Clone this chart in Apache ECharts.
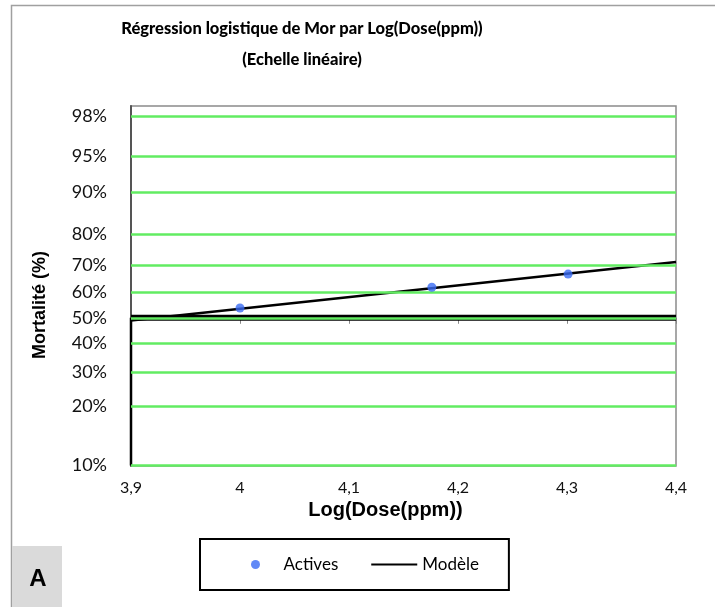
<!DOCTYPE html>
<html>
<head>
<meta charset="utf-8">
<script src="https://cdn.jsdelivr.net/npm/echarts@6/dist/echarts.min.js"></script>
<style>
  html, body { margin: 0; padding: 0; background: #fff; }
  #chart { width: 715px; height: 607px; }
</style>
</head>
<body>
<div id="chart"></div>
<script>
// ---- Data ----
// Y axis tick labels (mortality %) and the position of each gridline on the
// transformed (logit-like) axis, 50 % = 0.
const yTickPct = [10, 20, 30, 40, 50, 60, 70, 80, 90, 95, 98];
const yTickLabels = ['10%', '20%', '30%', '40%', '50%', '60%', '70%', '80%', '90%', '95%', '98%'];
const yTickPos = [-2.349, -1.413, -0.857, -0.402, 0, 0.408, 0.841, 1.329, 2.005, 2.560, 3.206];
const yAxisBottom = -2.355;
const yAxisTop = 3.365;

// X axis
const xMin = 3.9, xMax = 4.4, xStep = 0.1;

// Observed points "Actives": Log(Dose) and mortality (%)
const activesX = [4.0, 4.176, 4.301];
const activesPct = [53.8, 61.8, 66.6];

// Fitted model "Modèle"
const modelX = [3.9, 4.4];
const modelPct = [48.9, 70.9];

// 50 % reference line and vertical segment from the axis
const refX = [3.9, 4.4];
const refPct = [50, 50];
const vertX = [3.9, 3.9];
const vertPct = [50, 10];

// ---- transform percent -> axis position (piecewise between read gridlines) ----
function toAxis(p) {
  for (let i = 0; i < yTickPct.length - 1; i++) {
    if (p >= yTickPct[i] && p <= yTickPct[i + 1]) {
      const t = (p - yTickPct[i]) / (yTickPct[i + 1] - yTickPct[i]);
      return yTickPos[i] + t * (yTickPos[i + 1] - yTickPos[i]);
    }
  }
  return p < yTickPct[0] ? yTickPos[0] : yTickPos[yTickPos.length - 1];
}
const pair = (xs, ps) => xs.map((x, i) => [x, toAxis(ps[i])]);

const chart = echarts.init(document.getElementById('chart'), null, { renderer: 'canvas' });

const gridLines = yTickPos.map((v, i) => ({
  yAxis: v,
  label: { formatter: yTickLabels[i] }
}));

const option = {
  backgroundColor: '#ffffff',
  animation: false,
  title: {
    text: 'Régression logistique de Mor par Log(Dose(ppm))\n(Echelle linéaire)',
    left: 297,
    top: 8,
    textAlign: 'center',
    textStyle: {
      fontFamily: 'Lato',
      fontWeight: 900,
      fontSize: 16.5,
      lineHeight: 31,
      color: '#000'
    }
  },
  grid: {
    left: 131, right: 39, top: 106, bottom: 141,
    show: true,
    borderColor: '#8a8a8a',
    borderWidth: 1.5,
    backgroundColor: 'transparent'
  },
  legend: {
    left: 200,
    top: 539,
    orient: 'horizontal',
    data: [
      { name: 'Actives', icon: 'circle' },
      { name: 'Modèle', itemStyle: { opacity: 0 } }
    ],
    itemWidth: 46,
    itemHeight: 9,
    itemGap: 32,
    padding: [17, 30, 17, 51],
    borderColor: '#000',
    borderWidth: 2,
    textStyle: { fontFamily: 'Lato', fontSize: 17, color: '#000' },
    selectedMode: false
  },
  xAxis: {
    type: 'value',
    min: xMin, max: xMax, interval: xStep,
    name: 'Log(Dose(ppm))',
    nameLocation: 'middle',
    nameGap: 34,
    nameTextStyle: {
      fontFamily: 'Liberation Sans', fontWeight: 'bold', fontSize: 20, color: '#000',
      padding: [0, 36, 0, 0]
    },
    axisLine: { show: false },
    axisTick: { show: true, length: 6, lineStyle: { color: '#888' } },
    splitLine: { show: false },
    axisLabel: {
      margin: 14,
      fontFamily: 'Lato', fontSize: 16, color: '#111',
      formatter: v => (Math.round(v * 10) / 10).toString().replace('.', ',')
    }
  },
  yAxis: {
    type: 'value',
    min: yAxisBottom, max: yAxisTop,
    name: 'Mortalité (%)',
    nameLocation: 'middle',
    nameGap: 82,
    nameRotate: 90,
    nameTextStyle: {
      fontFamily: 'Liberation Sans', fontWeight: 'bold', fontSize: 18, color: '#000',
      padding: [0, 38, 0, 0]
    },
    axisLine: { show: true, lineStyle: { color: '#555', width: 2 } },
    axisTick: { show: false },
    axisLabel: { show: false },
    splitLine: { show: false }
  },
  series: [
    {
      name: 'grid',
      type: 'line',
      data: [],
      silent: true,
      z: 1,
      markLine: {
        silent: true,
        symbol: 'none',
        animation: false,
        lineStyle: { color: '#62EC62', width: 2.5, type: 'solid' },
        label: {
          show: true,
          position: 'start',
          distance: 24,
          fontFamily: 'Lato',
          fontSize: 18,
          color: '#111'
        },
        emphasis: { disabled: true },
        data: gridLines
      }
    },
    {
      name: 'ref50',
      type: 'line',
      data: pair(refX, refPct),
      symbol: 'none',
      silent: true,
      lineStyle: { color: '#000', width: 6 },
      z: 3
    },
    {
      name: 'vert',
      type: 'line',
      data: pair(vertX, vertPct),
      symbol: 'none',
      silent: true,
      lineStyle: { color: '#000', width: 2.5 },
      z: 3
    },
    {
      name: 'Modèle',
      type: 'line',
      data: pair(modelX, modelPct),
      symbol: 'none',
      color: '#000',
      lineStyle: { color: '#000', width: 2.5 },
      z: 4
    },
    {
      name: 'Actives',
      type: 'scatter',
      data: pair(activesX, activesPct),
      symbol: 'circle',
      symbolSize: 9,
      color: '#3A6CF4',
      itemStyle: { color: '#3A6CF4' },
      z: 5
    }
  ],
  graphic: [
    {
      type: 'polyline',
      silent: true,
      shape: { points: [[11.5, 607], [11.5, 5.5], [715, 5.5]] },
      style: { stroke: '#a0a0a0', lineWidth: 1.5, fill: null }
    },
    {
      type: 'rect',
      silent: true,
      shape: { x: 12, y: 546, width: 50, height: 61 },
      style: { fill: '#dadada' }
    },
    {
      type: 'text',
      silent: true,
      x: 38, y: 579,
      style: {
        text: 'A',
        fontFamily: 'Liberation Sans',
        fontWeight: 'bold',
        fontSize: 24,
        fill: '#000',
        align: 'center',
        verticalAlign: 'middle'
      }
    }
  ]
};

chart.setOption(option);
</script>
</body>
</html>
